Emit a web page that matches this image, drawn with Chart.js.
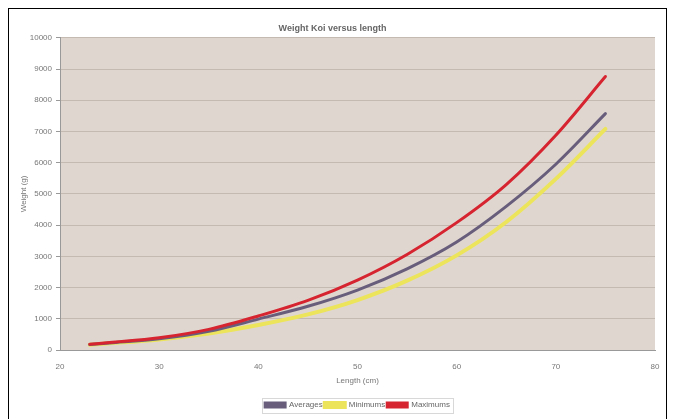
<!DOCTYPE html>
<html>
<head>
<meta charset="utf-8">
<script src="https://cdn.jsdelivr.net/npm/chart.js@4/dist/chart.umd.min.js"></script>
<style>
  html, body { margin: 0; padding: 0; background: #fff; }
  #wrap { width: 673px; height: 419px; }
</style>
</head>
<body>
<div id="wrap"><canvas id="myChart" width="673" height="419"></canvas></div>
<script>
// Data
const lengths  = [23, 25, 30, 35, 40, 45, 50, 55, 60, 65, 70, 75];
const averages = [175, 225, 360, 600, 990, 1400, 1920, 2600, 3460, 4600, 5950, 7570];
const minimums = [170, 215, 340, 530, 800, 1140, 1600, 2220, 3030, 4100, 5480, 7080];
const maximums = [185, 240, 390, 660, 1090, 1590, 2240, 3060, 4080, 5300, 6880, 8760];

const seriesNames = ['Averages', 'Minimums', 'Maximums'];
const yTicks = [0, 1000, 2000, 3000, 4000, 5000, 6000, 7000, 8000, 9000, 10000];
const xTicks = [20, 30, 40, 50, 60, 70, 80];

const toPoints = vals => vals.map((v, i) => ({x: lengths[i], y: v}));

// white page, black frame and tan plot area
const frame = {
  id: 'frame',
  afterLayout(chart) {
    // legend sits under the middle of the plot, not the whole box
    const lg = chart.legend;
    const a = chart.chartArea;
    const shift = (a.left + a.right) / 2 - (lg.left + lg.right) / 2;
    lg.left += shift;
    lg.right += shift;
    lg.legendHitBoxes.forEach(b => { b.left += shift; });
  },
  beforeDraw(chart) {
    const ctx = chart.ctx;
    const a = chart.chartArea;
    ctx.save();
    ctx.fillStyle = '#ffffff';
    ctx.fillRect(0, 0, chart.width, chart.height);
    ctx.strokeStyle = '#000000';
    ctx.lineWidth = 1;
    ctx.strokeRect(8.5, 8.5, 658, 430);
    ctx.fillStyle = 'rgb(223,215,207)';
    ctx.fillRect(a.left, a.top, a.right - a.left, a.bottom - a.top);
    ctx.restore();
  },
  afterDraw(chart) {
    const lg = chart.legend;
    const ctx = chart.ctx;
    if (!lg || !lg.legendHitBoxes.length) return;
    const boxes = lg.legendHitBoxes;
    const x0 = boxes[0].left - 3;
    const last = boxes[boxes.length - 1];
    const x1 = last.left + last.width + 3;
    ctx.save();
    ctx.strokeStyle = '#d8d8d8';
    ctx.lineWidth = 1;
    ctx.strokeRect(Math.round(x0) + 0.5, Math.round(boxes[0].top - 3) + 0.5, Math.round(x1 - x0), 15);
    ctx.restore();
  }
};

const myChart = document.getElementById('myChart');

let lineChart = new Chart(myChart, {
  type: 'line',
  data: {
    datasets: [
      {
        label: seriesNames[0],
        data: toPoints(averages),
        borderColor: 'rgb(104,94,124)',
        backgroundColor: 'rgb(104,94,124)',
        order: 1
      },
      {
        label: seriesNames[1],
        data: toPoints(minimums),
        borderColor: 'rgb(236,228,90)',
        backgroundColor: 'rgb(236,228,90)',
        borderWidth: 4,
        order: 2
      },
      {
        label: seriesNames[2],
        data: toPoints(maximums),
        borderColor: 'rgb(214,36,48)',
        backgroundColor: 'rgb(214,36,48)',
        order: 0
      }
    ]
  },
  options: {
    responsive: false,
    animation: false,
    devicePixelRatio: 1,
    layout: { padding: { left: 10, right: 18, top: 23, bottom: 0 } },
    elements: {
      point: { radius: 0 },
      line: { borderWidth: 3, cubicInterpolationMode: 'monotone', borderCapStyle: 'round' }
    },
    plugins: {
      title: {
        display: true,
        text: 'Weight Koi versus length',
        color: '#666',
        font: { family: 'Liberation Sans', size: 9 },
        padding: { top: 0, bottom: 4 }
      },
      legend: {
        position: 'bottom',
        labels: {
          color: '#666',
          font: { family: 'Liberation Sans', size: 8 },
          boxWidth: 20,
          boxHeight: 4,
          padding: 2,
          sort: (a, b) => a.datasetIndex - b.datasetIndex
        }
      },
      tooltip: { enabled: false }
    },
    scales: {
      x: {
        type: 'linear',
        min: 20,
        max: 80,
        afterBuildTicks: s => { s.ticks = xTicks.map(v => ({value: v})); },
        afterFit: s => { s.height = 49; },
        grid: { display: false, drawTicks: true, tickLength: 4, tickColor: '#999' },
        border: { color: '#999' },
        ticks: {
          color: '#777',
          font: { family: 'Liberation Sans', size: 8 },
          padding: 8,
          maxRotation: 0
        },
        title: {
          display: true,
          text: 'Length (cm)',
          color: '#777',
          font: { family: 'Liberation Sans', size: 8 },
          padding: { top: 0, bottom: 13 }
        }
      },
      y: {
        min: 0,
        max: 10000,
        afterBuildTicks: s => { s.ticks = yTicks.map(v => ({value: v})); },
        afterFit: s => { s.width = 50; },
        grid: { color: 'rgb(196,186,178)', tickLength: 4, tickColor: '#999' },
        border: { color: '#999' },
        ticks: {
          color: '#777',
          font: { family: 'Liberation Sans', size: 8 },
          padding: 4,
          callback: v => String(v)
        },
        title: {
          display: true,
          text: 'Weight (g)',
          color: '#777',
          font: { family: 'Liberation Sans', size: 8 },
          padding: { top: 9, bottom: 0 }
        }
      }
    }
  },
  plugins: [frame]
});
</script>
</body>
</html>
